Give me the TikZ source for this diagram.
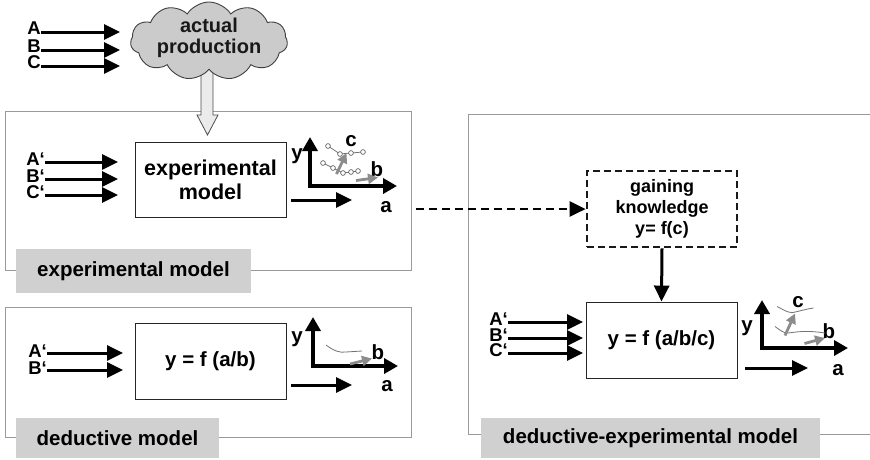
\documentclass[tikz,border=0pt]{standalone}
\usepackage{fontspec}
\setmainfont{Liberation Sans}
\usetikzlibrary{shapes.symbols,arrows.meta}
\newcommand\fbig{\fontsize{20.5}{24}\selectfont\bfseries}
\newcommand\fexpbox{\fontsize{21.5}{24}\selectfont\bfseries}
\newcommand\fcloud{\fontsize{20}{21.5}\selectfont\bfseries}
\newcommand\fgk{\fontsize{18}{21}\selectfont\bfseries}
\newcommand\flbl{\fontsize{18.5}{16}\selectfont\bfseries}
\newcommand\fax{\fontsize{20.5}{20}\selectfont\bfseries}
\definecolor{panelgray}{HTML}{9A9A9A}
\definecolor{taggray}{HTML}{D0D0D0}
\definecolor{cloudgray}{HTML}{CBCBCB}
\definecolor{arrgray}{HTML}{8C8C8C}
\tikzset{
  panel/.style={draw=panelgray, line width=0.8pt, minimum width=#1, anchor=north west, inner sep=0pt},
  tag/.style={fill=taggray, inner sep=0pt, font=\fbig},
  modelbox/.style={draw=black!85, line width=0.9pt, fill=white, inner sep=0pt, align=center, font=\fbig, minimum width=151pt, minimum height=76pt},
  dashbox/.style={draw=black!90, line width=2.7pt, dash pattern=on 7pt off 4pt, inner sep=0pt, align=center, font=\fgk, minimum width=150pt, minimum height=76pt},
  inlbl/.style={font=\flbl, inner sep=0pt, anchor=base east, text height=13pt, text depth=0pt},
  flow/.style={line width=3pt, -{Triangle[length=16pt,width=15pt]}},
  dflow/.style={line width=2.7pt, dash pattern=on 8pt off 5pt, -{Triangle[length=16pt,width=15pt]}},
  axis/.style={line width=4.2pt, {Triangle[length=14pt,width=15pt]}-{Triangle[length=14pt,width=15pt]}},
  grarrow/.style={draw=arrgray, line width=2.8pt, -{Triangle[length=10pt,width=10pt]}},
  grcurve/.style={draw=black!55, line width=0.8pt},
  dot/.style={circle, draw=black!70, fill=white, line width=0.6pt, inner sep=0pt, minimum size=4.8pt},
  axlbl/.style={font=\fax, inner sep=0pt},
}
\begin{document}
\begin{tikzpicture}[x=1pt,y=-1pt]
\useasboundingbox (0,0) rectangle (870,459);

% ---------- panels ----------
\node[panel=406pt, minimum height=159pt] (expP) at (5,111) {};
\node[panel=406pt, minimum height=130pt] (dedP) at (5,307) {};
\node[panel=401.5pt, minimum height=320pt] (deP) at (468,114) {};

\node[tag, minimum width=235pt, minimum height=44pt] (expTag) at (133.5,271) {experimental model};
\node[tag, minimum width=203pt, minimum height=40pt] (dedTag) at (117.5,438) {deductive model};
\node[tag, minimum width=339pt, minimum height=40pt] (deTag) at (650.5,438) {deductive-experimental model};

% ---------- actual production ----------
\draw[draw=black!70, fill=black!8, line width=0.8pt]
  (201,70) -- (201,115) -- (197,115) -- (207.5,135) -- (218,115) -- (213,115) -- (213,70);
\node[cloud, cloud puffs=11, cloud puff arc=115, aspect=2.0, draw=black!75, fill=cloudgray,
      line width=0.9pt, minimum width=157pt, minimum height=78pt, inner sep=0pt] (cloud) at (209,41) {};
\node[font=\fcloud, align=center, inner sep=0pt, text=black!90] (cloudTxt) at (209,38) {actual\\production};

\node[inlbl] (lA) at (41,34) {A};
\node[inlbl] (lB) at (41,52) {B};
\node[inlbl] (lC) at (41,68) {C};
\coordinate (tA) at (120,32);
\coordinate (tB) at (120,50);
\coordinate (tC) at (120,66);
\draw[flow] (lA.east |- tA) -- (tA);
\draw[flow] (lB.east |- tB) -- (tB);
\draw[flow] (lC.east |- tC) -- (tC);

% ---------- experimental model ----------
\node[modelbox, minimum height=75pt, font=\fexpbox] (emb) at (210.5,179.5) {experimental\\model};
\node[inlbl] (eA) at (45,165.5) {A‘};
\node[inlbl] (eB) at (45,182.5) {B‘};
\node[inlbl] (eC) at (45,198.5) {C‘};
\coordinate (eAt) at (118,162);
\coordinate (eBt) at (118,179);
\coordinate (eCt) at (118,195);
\draw[flow] (eA.east |- eAt) -- (eAt);
\draw[flow] (eB.east |- eBt) -- (eBt);
\draw[flow] (eC.east |- eCt) -- (eCt);
\coordinate (eOut) at (352,200);
\draw[flow] ([xshift=5pt]emb.east |- eOut) -- (eOut);
\coordinate (eO) at (310,186);
\draw[axis] (310,137) -- (eO) -- (397,186);
\node[axlbl] (ey) at (297,156) {y};
\node[axlbl] (ea) at (386,207) {a};
\node[axlbl] (eb) at (377,169) {b};
\node[axlbl] (ec) at (351,141) {c};
\draw[grcurve] (328,146) -- (340,154) -- (351,153) -- (363,152);
\draw[grcurve] (323,163) -- (333,168) -- (343,173) -- (351,172) -- (358,171);
\foreach \p in {(328,146),(340,154),(351,153),(363,152),(323,163),(333,168),(343,173),(351,172),(358,171)}
  \node[dot] at \p {};
\draw[grarrow] (336.5,174) -- (346.5,153);
\draw[grarrow] (356,180.5) -- (378,177.5);

% ---------- deductive model ----------
\node[modelbox] (dbox) at (210.5,361) {y = f (a/b)};
\node[inlbl] (dA) at (47,357) {A‘};
\node[inlbl] (dB) at (47,374) {B‘};
\coordinate (dAt) at (123,353);
\coordinate (dBt) at (123,370);
\draw[flow] (dA.east |- dAt) -- (dAt);
\draw[flow] (dB.east |- dBt) -- (dBt);
\coordinate (dOut) at (352,385);
\draw[flow] ([xshift=5pt]dbox.east |- dOut) -- (dOut);
\coordinate (dO) at (313,366);
\draw[axis] (313,317) -- (dO) -- (398,366);
\node[axlbl] (dy) at (297,339) {y};
\node[axlbl] (da) at (387,386) {a};
\node[axlbl] (db) at (378,352) {b};
\draw[grcurve] (326,345) .. controls (334,351) and (340,353) .. (346,352) -- (362,351);
\draw[grarrow] (350,364) -- (372,358.5);

% ---------- deductive-experimental model ----------
\node[dashbox] (gk) at (662,209) {gaining\\knowledge\\y= f(c)};
\node[modelbox] (fbx) at (661.5,340) {y = f (a/b/c)};
\coordinate (gkIn) at ([xshift=4pt]expP.east |- gk.west);
\draw[dflow] (gkIn) -- (gk.west);
\draw[flow] (gk.south) -- (fbx.north);
\node[inlbl] (rA) at (508,325.5) {A‘};
\node[inlbl] (rB) at (508,341.5) {B‘};
\node[inlbl] (rC) at (508,356.5) {C‘};
\coordinate (rAt) at (583,322);
\coordinate (rBt) at (583,338);
\coordinate (rCt) at (583,353);
\draw[flow] (rA.east |- rAt) -- (rAt);
\draw[flow] (rB.east |- rBt) -- (rBt);
\draw[flow] (rC.east |- rCt) -- (rCt);
\coordinate (rOut) at (808,368);
\draw[flow] ([xshift=8pt]fbx.east |- rOut) -- (rOut);
\coordinate (rO) at (762,348);
\draw[axis] (762,300) -- (rO) -- (848,348);
\node[axlbl] (ry) at (747,328) {y};
\node[axlbl] (ra) at (838,370) {a};
\node[axlbl] (rb) at (829,331) {b};
\node[axlbl] (rc) at (798,302) {c};
\draw[grcurve] (777,306.5) .. controls (784,310) and (788,313) .. (793,312.5) .. controls (800,311) and (806,309) .. (813.5,308);
\draw[grcurve] (775,326.5) .. controls (780,330) and (783,333) .. (788,333) .. controls (797,332) and (805,330) .. (825,333);
\draw[grarrow] (785,335.5) -- (795,313.5);
\draw[grarrow] (804.5,343.5) -- (825,338);
\end{tikzpicture}
\end{document}
